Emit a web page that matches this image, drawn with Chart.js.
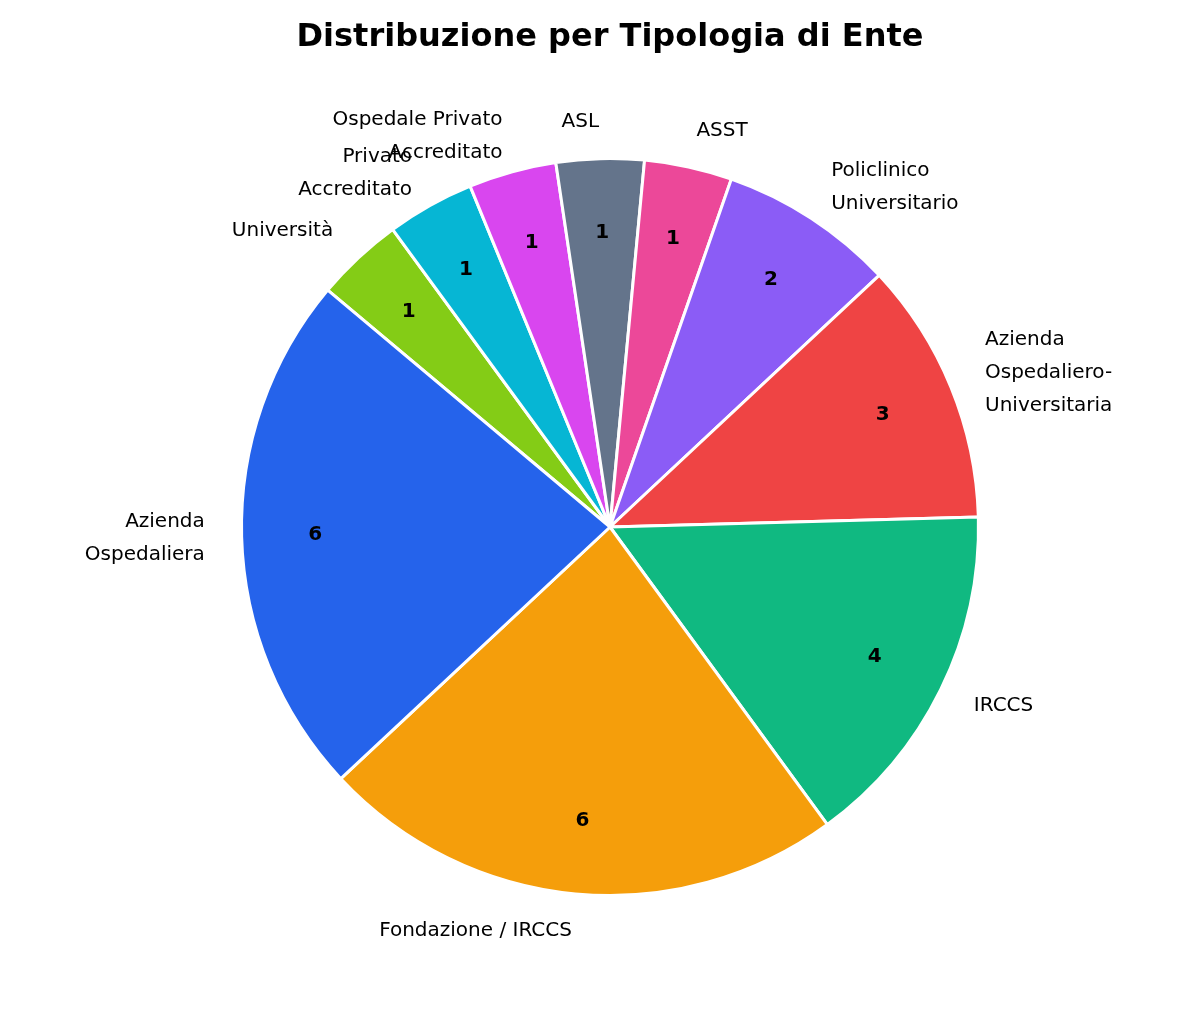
<!DOCTYPE html>
<html><head><meta charset="utf-8">
<script src="https://cdn.jsdelivr.net/npm/chart.js@4"></script>
<style>html,body{margin:0;padding:0;background:#fff}#w{width:1200px;height:1010px}</style>
</head><body><div id="w"><canvas id="c"></canvas></div>
<script>
// matplotlib order (counterclockwise from 140°)
const categories = ["Azienda\nOspedaliera","Fondazione / IRCCS","IRCCS","Azienda\nOspedaliero-\nUniversitaria","Policlinico\nUniversitario","ASST","ASL","Ospedale Privato\nAccreditato","Privato\nAccreditato","Università"];
const values = [6,6,4,3,2,1,1,1,1,1];
const colors = ["#2563EB","#F59E0B","#10B981","#EF4444","#8B5CF6","#EC4899","#64748B","#D946EF","#06B6D4","#84CC16"];
const titleText = "Distribuzione per Tipologia di Ente";

// Chart.js draws clockwise, so reverse
const L = categories.slice().reverse(), V = values.slice().reverse(), C = colors.slice().reverse();

const labelPlugin = {
  id:'lbl',
  afterDraw(chart){
    const ctx = chart.ctx;
    ctx.save();
    ctx.fillStyle='#000';
    ctx.font='bold 32px "DejaVu Sans"';
    ctx.textAlign='center'; ctx.textBaseline='middle';
    ctx.fillText(titleText, 610, 38);
    const meta = chart.getDatasetMeta(0);
    meta.data.forEach((arc,i)=>{
      const p = arc.getProps(['startAngle','endAngle','x','y','outerRadius'],true);
      const a = (p.startAngle+p.endAngle)/2;
      const r = p.outerRadius;
      const cx = Math.cos(a), cy = Math.sin(a);
      ctx.font='bold 20px "DejaVu Sans"';
      ctx.textAlign='center';
      ctx.fillText(String(V[i]), p.x+cx*r*0.8, p.y+cy*r*0.8);
      ctx.font='20px "DejaVu Sans"';
      ctx.textAlign = cx<0 ? 'right' : 'left';
      const lines = L[i].split('\n');
      const lh = 33;
      const tx = p.x+cx*r*1.1, ty = p.y+cy*r*1.1;
      lines.forEach((ln,k)=>ctx.fillText(ln, tx, ty+(k-(lines.length-1)/2)*lh));
    });
    ctx.restore();
  }
};

new Chart(document.getElementById('c'),{
  type:'pie',
  data:{labels:L,datasets:[{data:V,backgroundColor:C,borderColor:'#fff',borderWidth:3}]},
  options:{
    responsive:true,maintainAspectRatio:false,animation:false,
    rotation:-50,
    layout:{padding:{left:240,right:220,top:157,bottom:113}},
    plugins:{legend:{display:false},title:{display:false},tooltip:{enabled:false}}
  },
  plugins:[labelPlugin]
});
</script></body></html>
